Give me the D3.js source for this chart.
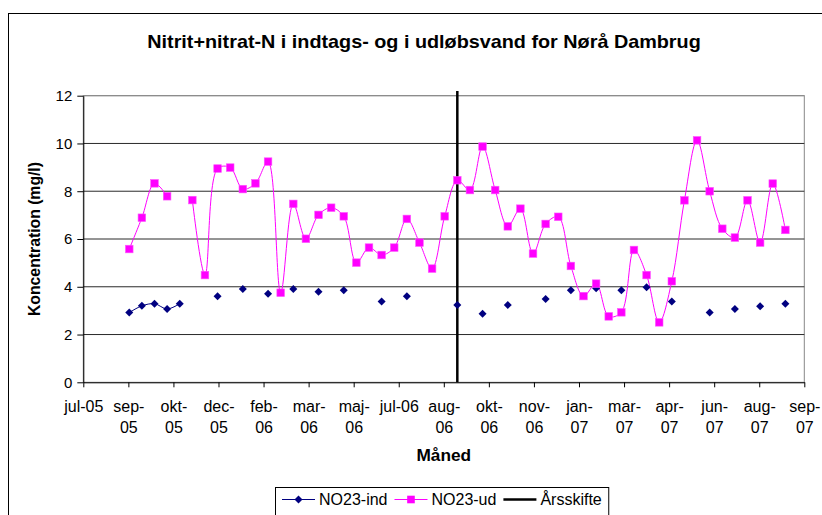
<!DOCTYPE html>
<html>
<head>
<meta charset="utf-8">
<script src="https://cdn.jsdelivr.net/npm/d3@7"></script>
<style>
	body { margin: 0; background: #fff; }
	svg { display: block; font-family: "Liberation Sans", Arial, sans-serif; }
</style>
</head>
<body>
<svg width="822" height="515"></svg>
<script>
'use strict';

// sample dates (every other week)
const dates = [
	"2005-09-06", "2005-09-20", "2005-10-04", "2005-10-18", "2005-11-01", "2005-11-15", "2005-11-29",
	"2005-12-13", "2005-12-27", "2006-01-10", "2006-01-24", "2006-02-07", "2006-02-21", "2006-03-07",
	"2006-03-21", "2006-04-04", "2006-04-18", "2006-05-02", "2006-05-16", "2006-05-30", "2006-06-13",
	"2006-06-27", "2006-07-11", "2006-07-25", "2006-08-08", "2006-08-22", "2006-09-05", "2006-09-19",
	"2006-10-03", "2006-10-17", "2006-10-31", "2006-11-14", "2006-11-28", "2006-12-12", "2006-12-26",
	"2007-01-09", "2007-01-23", "2007-02-06", "2007-02-20", "2007-03-06", "2007-03-20", "2007-04-03",
	"2007-04-17", "2007-05-01", "2007-05-15", "2007-05-29", "2007-06-12", "2007-06-26", "2007-07-10",
	"2007-07-24", "2007-08-07", "2007-08-21", "2007-09-04"
];

const no23Ind = [
	2.92, 3.20, 3.29, 3.07, 3.29, null, null, 3.60, null, 3.91, null, 3.71, null, 3.91,
	null, 3.79, null, 3.85, null, null, 3.38, null, 3.60, null, null, null, 3.24, null,
	2.87, null, 3.24, null, null, 3.49, null, 3.85, null, 3.94, null, 3.85, null, 3.98,
	null, 3.38, null, null, 2.92, null, 3.07, null, 3.18, null, 3.29
];

const no23Ud = [
	5.58, 6.89, 8.33, 7.79, null, 7.63, 4.49, 8.95, 8.99, 8.09, 8.33, 9.24, 3.75, 7.47,
	6.01, 7.01, 7.31, 6.95, 5.01, 5.64, 5.33, 5.64, 6.84, 5.85, 4.76, 6.95, 8.46, 8.05,
	9.87, 8.05, 6.53, 7.27, 5.39, 6.63, 6.93, 4.87, 3.61, 4.13, 2.76, 2.93, 5.54, 4.49,
	2.51, 4.23, 7.62, 10.13, 8.00, 6.43, 6.06, 7.62, 5.85, 8.32, 6.38
];

const aarsskifteDates = ["2006-09-05", "2006-09-05"];
const aarsskifteValues = [0, 12.2];

const xTickLabels = [
	"jul-05", "sep-05", "okt-05", "dec-05", "feb-06", "mar-06", "maj-06", "jul-06", "aug-06",
	"okt-06", "nov-06", "jan-07", "mar-07", "apr-07", "jun-07", "aug-07", "sep-07"
];
const yTicks = [0, 2, 4, 6, 8, 10, 12];
const legendLabels = ["NO23-ind", "NO23-ud", "Årsskifte"];

const parse = d3.utcParse("%Y-%m-%d");
const axisStart = parse("2005-07-17");
const axisEnd = parse("2007-09-25");

const svg = d3.select("svg");
const plotLeft = 83.3, plotRight = 804.3, plotTop = 95.7, plotBottom = 382.3;

const x = d3.scaleUtc().domain([axisStart, axisEnd]).range([plotLeft, plotRight]);
const y = d3.scaleLinear().domain([0, 12]).range([plotBottom, plotTop]);

// text that is a bit wider than the font, like the original export
function wideText(parent, tx, ty, sx) {
	return parent.append("text")
		.attr("transform", `translate(${tx},${ty}) scale(${sx},1)`);
}

// chart frame
svg.append("rect")
	.attr("x", 8.5).attr("y", 13.5)
	.attr("width", 840).attr("height", 520)
	.attr("fill", "#fff").attr("stroke", "#000").attr("stroke-width", 1);

wideText(svg, 424, 48, 1.1)
	.attr("text-anchor", "middle")
	.attr("font-size", 18).attr("font-weight", "bold")
	.text("Nitrit+nitrat-N i indtags- og i udløbsvand for Nørå Dambrug");

// plot area
svg.append("rect")
	.attr("x", plotLeft).attr("y", plotTop)
	.attr("width", plotRight - plotLeft).attr("height", plotBottom - plotTop)
	.attr("fill", "#fff").attr("stroke", "#888").attr("stroke-width", 1);

svg.append("g")
	.selectAll("line")
	.data(yTicks.filter(d => d > 0))
	.enter().append("line")
	.attr("x1", plotLeft).attr("x2", plotRight)
	.attr("y1", d => y(d)).attr("y2", d => y(d))
	.attr("stroke", d => d === 12 ? "#888" : "#2a2a2a")
	.attr("stroke-width", 1);

// axes
const xTickDates = xTickLabels.map((d, i) => d3.utcDay.offset(axisStart, i * 50));

const xAxis = svg.append("g")
	.attr("transform", `translate(0,${plotBottom})`)
	.call(d3.axisBottom(x).tickValues(xTickDates).tickSize(5).tickSizeOuter(0).tickFormat((d, i) => xTickLabels[i]));

xAxis.selectAll(".tick text").each(function(d, i) {
	const t = d3.select(this).attr("font-size", 16).attr("fill", "#000");
	const label = xTickLabels[i];
	const w = this.getComputedTextLength();
	t.text(null).attr("y", 0).attr("dy", null);
	const parts = w > 42 ? [label.slice(0, label.indexOf("-") + 1), label.slice(label.indexOf("-") + 1)] : [label];
	parts.forEach((p, j) => {
		t.append("tspan").attr("x", 0).attr("y", 30 + j * 20.5).text(p);
	});
});

const yAxis = svg.append("g")
	.attr("transform", `translate(${plotLeft},0)`)
	.call(d3.axisLeft(y).tickValues(yTicks).tickSize(6).tickSizeOuter(0).tickPadding(5));
yAxis.selectAll(".tick text").attr("font-size", 15).attr("fill", "#000");

svg.selectAll(".domain").attr("stroke", "#000");
svg.selectAll(".tick line").attr("stroke", "#000");

svg.append("text")
	.attr("transform", `translate(40,${(plotTop + plotBottom) / 2}) rotate(-90)`)
	.attr("text-anchor", "middle")
	.attr("font-size", 15.75).attr("font-weight", "bold")
	.text("Koncentration (mg/l)");

wideText(svg, (plotLeft + plotRight) / 2, 461, 1.08)
	.attr("text-anchor", "middle")
	.attr("font-size", 16).attr("font-weight", "bold")
	.text("Måned");

// series
const indData = dates.map((d, i) => ({ date: parse(d), v: no23Ind[i] }));
const udData = dates.map((d, i) => ({ date: parse(d), v: no23Ud[i] }));
const yearData = aarsskifteDates.map((d, i) => ({ date: parse(d), v: aarsskifteValues[i] }));

const line = d3.line()
	.defined(d => d.v != null)
	.x(d => x(d.date))
	.y(d => y(d.v));

svg.append("path")
	.datum(yearData)
	.attr("d", line.curve(d3.curveLinear))
	.attr("fill", "none").attr("stroke", "#000").attr("stroke-width", 2.5);
line.curve(d3.curveCatmullRom.alpha(0.5));

svg.append("path")
	.datum(indData)
	.attr("d", line)
	.attr("fill", "none").attr("stroke", "#000080").attr("stroke-width", 1);

svg.append("path")
	.datum(udData)
	.attr("d", line)
	.attr("fill", "none").attr("stroke", "#ff00ff").attr("stroke-width", 1);

const diamond = d3.symbol().type(d3.symbolSquare).size(32);

svg.append("g")
	.selectAll("path")
	.data(indData.filter(d => d.v != null))
	.enter().append("path")
	.attr("d", diamond)
	.attr("transform", d => `translate(${x(d.date)},${y(d.v)}) rotate(45)`)
	.attr("fill", "#000080");

svg.append("g")
	.selectAll("rect")
	.data(udData.filter(d => d.v != null))
	.enter().append("rect")
	.attr("x", d => x(d.date) - 3.8).attr("y", d => y(d.v) - 3.8)
	.attr("width", 7.6).attr("height", 7.6)
	.attr("fill", "#ff00ff").attr("stroke", "#ff55ff").attr("stroke-width", 0.6);

// legend
const legend = svg.append("g");
const legendBox = legend.append("rect")
	.attr("x", 275.5).attr("y", 487.5).attr("height", 32)
	.attr("fill", "#fff").attr("stroke", "#000").attr("stroke-width", 1);

const legendColors = ["#000080", "#ff00ff", "#000"];
let lx = 282;
const ly = 499.5;
legendLabels.forEach((label, i) => {
	legend.append("line")
		.attr("x1", lx).attr("x2", lx + 33).attr("y1", ly).attr("y2", ly)
		.attr("stroke", legendColors[i]).attr("stroke-width", i === 2 ? 2.5 : 1);
	if (i === 0) {
		legend.append("path")
			.attr("d", diamond)
			.attr("transform", `translate(${lx + 16.5},${ly}) rotate(45)`)
			.attr("fill", legendColors[i]);
	} else if (i === 1) {
		legend.append("rect")
			.attr("x", lx + 12.7).attr("y", ly - 3.8).attr("width", 7.6).attr("height", 7.6)
			.attr("fill", "#ff00ff");
	}
	const t = legend.append("text")
		.attr("x", lx + 37).attr("y", ly + 5.5)
		.attr("font-size", 16)
		.text(label);
	lx = lx + 37 + t.node().getComputedTextLength() + 7;
});
legendBox.attr("width", lx - 275.5);
</script>
</body>
</html>
